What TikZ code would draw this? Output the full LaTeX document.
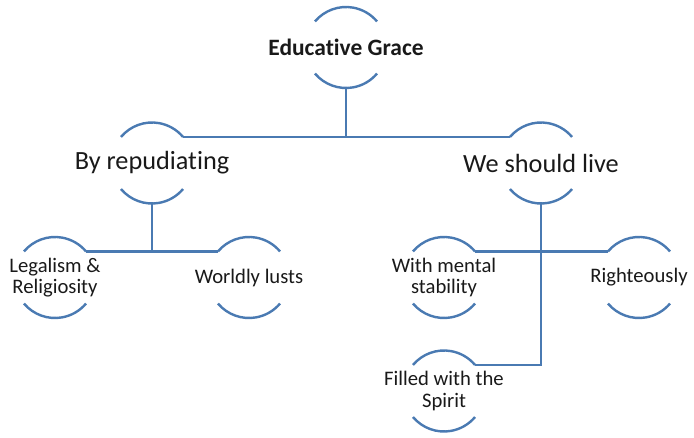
\documentclass[tikz,border=0pt]{standalone}
\usepackage{fontspec}
\setmainfont{Carlito}[Ligatures=NoCommon]
\definecolor{arcblue}{RGB}{74,122,178}

\begin{document}
\begin{tikzpicture}[x=0.75pt,y=-0.75pt,
  main node/.style={circle,minimum size=60.75pt,inner sep=0pt,outer sep=0pt},
  top text/.style={font=\fontsize{17.6}{21}\selectfont\bfseries,text=black!90},
  mid text/.style={font=\fontsize{19.7}{23}\selectfont,text=black!90},
  low text/.style={font=\fontsize{15.5}{16.2}\selectfont,align=center,text=black!90},
  bracket/.style={arcblue,line width=1.8pt},
  link/.style={arcblue,line width=1.8pt}]
  \useasboundingbox (0,0) rectangle (694,438);

  \node[main node,label={[top text]center:Educative Grace}] (top) at (346,47.5) {};
  \node[main node,label={[mid text]center:By repudiating}] (rep) at (152,163) {};
  \node[main node,label={[mid text]center:We should live}] (live) at (541,163) {};
  \node[main node,label={[low text]center:Legalism \&\\Religiosity}] (legal) at (55,277.5) {};
  \node[main node,label={[low text]center:Worldly lusts}] (lusts) at (249,277.5) {};
  \node[main node,label={[low text]center:With mental\\stability}] (mental) at (444,277.5) {};
  \node[main node,label={[low text]center:Righteously}] (right) at (639,277.5) {};
  \node[main node,label={[low text]center:Filled with the\\Spirit}] (spirit) at (444,391) {};

  % arcs above and below each text
  \draw[bracket] (top.140) arc[start angle=140,end angle=40,radius=30.375pt];
  \draw[bracket] (top.220) arc[start angle=220,end angle=320,radius=30.375pt];
  \draw[bracket] (rep.140) arc[start angle=140,end angle=40,radius=30.375pt];
  \draw[bracket] (rep.220) arc[start angle=220,end angle=320,radius=30.375pt];
  \draw[bracket] (live.140) arc[start angle=140,end angle=40,radius=30.375pt];
  \draw[bracket] (live.220) arc[start angle=220,end angle=320,radius=30.375pt];
  \draw[bracket] (legal.140) arc[start angle=140,end angle=40,radius=30.375pt];
  \draw[bracket] (legal.220) arc[start angle=220,end angle=320,radius=30.375pt];
  \draw[bracket] (lusts.140) arc[start angle=140,end angle=40,radius=30.375pt];
  \draw[bracket] (lusts.220) arc[start angle=220,end angle=320,radius=30.375pt];
  \draw[bracket] (mental.140) arc[start angle=140,end angle=40,radius=30.375pt];
  \draw[bracket] (mental.220) arc[start angle=220,end angle=320,radius=30.375pt];
  \draw[bracket] (right.140) arc[start angle=140,end angle=40,radius=30.375pt];
  \draw[bracket] (right.220) arc[start angle=220,end angle=320,radius=30.375pt];
  \draw[bracket] (spirit.140) arc[start angle=140,end angle=40,radius=30.375pt];
  \draw[bracket] (spirit.220) arc[start angle=220,end angle=320,radius=30.375pt];

  % connectors
  \draw[link] (rep.40) -- (live.140);
  \draw[link] (top.south) -- (top.south |- rep.40);
  \draw[link] (legal.40) -- (lusts.140);
  \draw[link] (rep.south) -- (rep.south |- legal.40);
  \draw[link] (mental.40) -- (right.140);
  \draw[link] (live.south) |- (spirit.40);
\end{tikzpicture}
\end{document}
